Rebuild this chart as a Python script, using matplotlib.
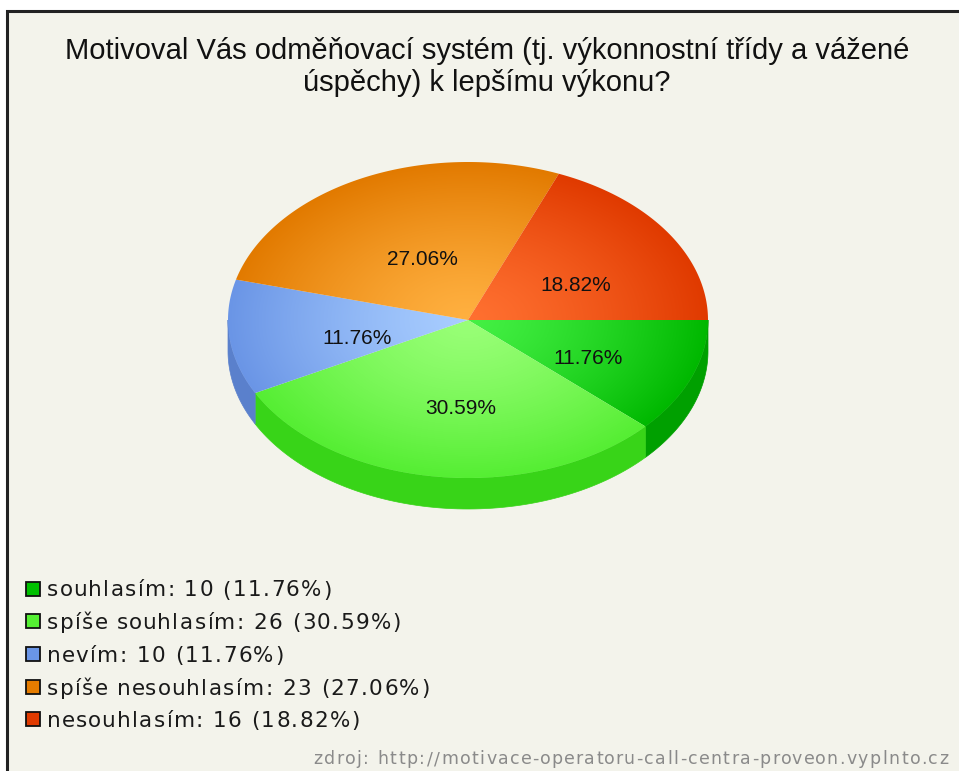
import numpy as np
import matplotlib.pyplot as plt
from matplotlib.patches import Polygon, Rectangle
from matplotlib.colors import to_rgb
from matplotlib.textpath import TextToPath
from matplotlib.font_manager import FontProperties

# answers to the survey question
title = ("Motivoval Vás odměňovací systém (tj. výkonnostní třídy a vážené\n"
         "úspěchy) k lepšímu výkonu?")
labels = ["souhlasím", "spíše souhlasím", "nevím", "spíše nesouhlasím", "nesouhlasím"]
counts = [10, 26, 10, 23, 16]
source = "zdroj: http://motivace-operatoru-call-centra-proveon.vyplnto.cz"

# rim colour, centre highlight, side wall colour for each slice
rim_colors = ["#00b800", "#55ee33", "#6a95e6", "#e27a00", "#e03a00"]
center_colors = ["#44f044", "#99ff77", "#a8cdff", "#ffb040", "#ff7030"]
side_colors = ["#00a000", "#38d418", "#5a80cc", "#c86a00", "#c03000"]
legend_colors = ["#00c000", "#55f033", "#6a95e6", "#e57c00", "#e03a00"]

bg = "#f3f3eb"
W, H = 959, 771
fig = plt.figure(figsize=(W / 100, H / 100), dpi=100, facecolor="white")
ax = fig.add_axes([0, 0, 1, 1])
ax.set_xlim(0, W)
ax.set_ylim(H, 0)
ax.axis("off")

ttp = TextToPath()


def spaced_text(x, y, s, size, track, ha="left", color="#1a1a1a"):
    # DejaVu text with a little extra letter spacing, placed char by char
    fp = FontProperties(family="DejaVu Sans", size=size)
    base = ttp.get_text_width_height_descent("xx", fp, ismath=False)[0]
    adv = [(ttp.get_text_width_height_descent("x" + c + "x", fp, ismath=False)[0] - base) * 100 / 72
           for c in s]
    total = sum(adv) + track * (len(s) - 1)
    x0 = x - total if ha == "right" else x
    for c, a in zip(s, adv):
        ax.text(x0, y, c, ha="left", va="baseline", fontproperties=fp, color=color, zorder=4)
        x0 += a + track


# panel with dark border on top and left
ax.add_patch(Rectangle((6.5, 10.5), W, H, facecolor=bg, edgecolor="#222222", lw=2.2, zorder=0))

ax.text(487, 67, title, ha="center", va="center", fontsize=21,
        family="Liberation Sans", linespacing=1.2, color="#111111")

# pie geometry (pixels)
cx, cy, rx, ry, depth = 468, 320, 240, 158, 31
total = sum(counts)
fracs = np.array(counts) / total
edges = np.concatenate([[0], np.cumsum(fracs)]) * 2 * np.pi


def rim(t, dy=0):
    return np.column_stack([cx + rx * np.cos(t), cy + ry * np.sin(t) + dy])


# side walls for the front half of the pie
for i in range(len(counts)):
    a0, a1 = max(edges[i], 0), min(edges[i + 1], np.pi)
    if a1 <= a0:
        continue
    t = np.linspace(a0, a1, 80)
    pts = np.vstack([rim(t), rim(t[::-1], depth)])
    ax.add_patch(Polygon(pts, closed=True, facecolor=side_colors[i], edgecolor=side_colors[i], lw=0.5, zorder=1))

# top faces with a radial shading
gx, gy = np.meshgrid(np.linspace(cx - rx, cx + rx, 480), np.linspace(cy - ry, cy + ry, 320))
rr = np.clip(np.sqrt(((gx - cx) / rx) ** 2 + ((gy - cy) / ry) ** 2), 0, 1)[..., None]
for i in range(len(counts)):
    t = np.linspace(edges[i], edges[i + 1], 120)
    pts = np.vstack([[cx, cy], rim(t)])
    poly = Polygon(pts, closed=True, facecolor="none", edgecolor="none", zorder=2)
    ax.add_patch(poly)
    c0 = np.array(to_rgb(center_colors[i]))
    c1 = np.array(to_rgb(rim_colors[i]))
    img = c0 * (1 - rr ** 1.3) + c1 * rr ** 1.3
    im = ax.imshow(img, extent=(cx - rx, cx + rx, cy + ry, cy - ry), zorder=2, interpolation="bilinear")
    im.set_clip_path(poly)

    # percentage label, halfway out from a point just below the centre
    mid = (edges[i] + edges[i + 1]) / 2
    ax.text(cx + 8 + 0.5 * rx * np.cos(mid), cy + 10 + 0.5 * ry * np.sin(mid),
            f"{fracs[i] * 100:.2f}%", ha="center", va="center", fontsize=15,
            family="Liberation Sans", color="#111111", zorder=3)

ax.set_xlim(0, W)
ax.set_ylim(H, 0)
ax.set_aspect("auto")

# legend
for i, lab in enumerate(labels):
    y = 588.5 + i * 32.7
    ax.add_patch(Rectangle((25.5, y - 7), 14, 14, facecolor=legend_colors[i], edgecolor="#111111", lw=1.3, zorder=3))
    spaced_text(47, y + 8, f"{lab}: {counts[i]} ({fracs[i] * 100:.2f}%)", 15.5, 1.4)

spaced_text(948, 764, source, 12.5, 1.6, ha="right", color="#8a8a8a")

fig.savefig("out.png", dpi=100, facecolor="white")
